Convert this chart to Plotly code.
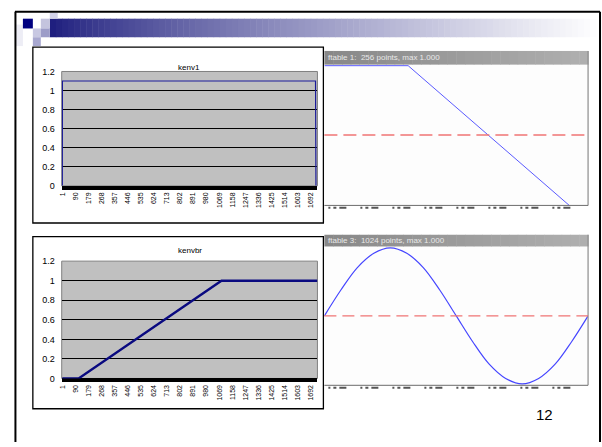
import plotly.graph_objects as go

W, H = 602, 447

# ---------------- data ----------------
x_labels = [1, 90, 179, 268, 357, 446, 535, 624, 713, 802, 891, 980,
            1069, 1158, 1247, 1336, 1425, 1514, 1603, 1692]
y_ticks = [0, 0.2, 0.4, 0.6, 0.8, 1.0, 1.2]

kenv1_x = [1, 2, 1724, 1727]
kenv1_y = [0.0, 1.1, 1.1, 0.0]

kenvbr_x = [1, 112, 1084, 1737]
kenvbr_y = [0.0, 0.0, 1.0, 1.0]

ftable1_x = [0, 81, 255]
ftable1_y = [1.0, 1.0, -1.25]

ftable3_x = [0, 64, 128, 192, 256, 320, 384, 448, 512,
             576, 640, 704, 768, 832, 896, 960, 1024]
ftable3_y = [0.0, 0.38, 0.71, 0.92, 1.0, 0.92, 0.71, 0.38, 0.0,
             -0.38, -0.71, -0.92, -1.0, -0.92, -0.71, -0.38, 0.0]

chart_titles = ["kenv1", "kenvbr"]
ftable_titles = ["ftable 1:  256 points, max 1.000",
                 "ftable 3:  1024 points, max 1.000"]
page_number = "12"

FONT = "Liberation Sans, Arial, sans-serif"


def px(x):
    return x / W


def py(y):
    return 1 - y / H


fig = go.Figure()

fig.add_trace(go.Scatter(x=kenv1_x, y=kenv1_y, mode="lines",
                         line=dict(color="#1a1a9a", width=1.2),
                         xaxis="x", yaxis="y", showlegend=False, hoverinfo="skip"))
fig.add_trace(go.Scatter(x=kenvbr_x, y=kenvbr_y, mode="lines",
                         line=dict(color="#0a0a80", width=2.4),
                         xaxis="x2", yaxis="y2", showlegend=False, hoverinfo="skip"))
fig.add_trace(go.Scatter(x=ftable1_x, y=ftable1_y, mode="lines",
                         line=dict(color="#5a5aff", width=1),
                         xaxis="x3", yaxis="y3", showlegend=False, hoverinfo="skip"))
fig.add_trace(go.Scatter(x=ftable3_x, y=ftable3_y, mode="lines", line_shape="spline",
                         line=dict(color="#4646ff", width=1.2),
                         xaxis="x4", yaxis="y4", showlegend=False, hoverinfo="skip"))

shapes = []
annotations = []

# ---------- slide decorations ----------
N = 90
x0, x1 = 47, 596
navy = (28, 28, 125)
for i in range(N):
    a = x0 + (x1 - x0) * i / N
    b = x0 + (x1 - x0) * (i + 1) / N + 0.5
    f = ((i + 0.5) / N) ** 0.8
    c = tuple(int(navy[k] + (255 - navy[k]) * f) for k in range(3))
    shapes.append(dict(type="rect", xref="paper", yref="paper",
                       x0=px(a), x1=px(b), y0=py(33), y1=py(14),
                       fillcolor="rgb(%d,%d,%d)" % c, line=dict(width=0), layer="below"))

squares = [
    (13, 20, 20, 42, "#ededf5"),
    (20, 14, 30, 24, "#000080"),
    (38, 14, 47, 24, "#c4c4de"),
    (47, 8, 55, 14, "#d2d2e8"),
    (30, 24, 38, 33, "#c8c8e2"),
    (38, 24, 47, 33, "#9c9cc8"),
    (30, 33, 38, 42, "#a8a8d0"),
]
for (a, b, c, d, col) in squares:
    shapes.append(dict(type="rect", xref="paper", yref="paper",
                       x0=px(a), x1=px(c), y0=py(d), y1=py(b),
                       fillcolor=col, line=dict(width=0), layer="below"))

for (a, b, c, d) in [(12, 7, 600, 7), (12.5, 7, 12.5, 447), (600, 7, 600, 447)]:
    shapes.append(dict(type="line", xref="paper", yref="paper",
                       x0=px(a), x1=px(c), y0=py(b), y1=py(d),
                       line=dict(color="black", width=2)))

# ---------- left charts (Excel style) ----------
boxes = [(30, 43, 322, 223), (30, 237, 322, 413)]
plots = [(59, 68, 316, 185), (59, 262, 316, 382)]
for (bx0, by0, bx1, by1), (qx0, qy0, qx1, qy1), t in zip(boxes, plots, chart_titles):
    shapes.append(dict(type="rect", xref="paper", yref="paper",
                       x0=px(bx0), x1=px(bx1), y0=py(by1), y1=py(by0),
                       fillcolor="white", line=dict(color="black", width=1.3), layer="below"))
    shapes.append(dict(type="rect", xref="paper", yref="paper",
                       x0=px(qx0), x1=px(qx1), y0=py(qy1), y1=py(qy0),
                       fillcolor="#c0c0c0", line=dict(color="#808080", width=1), layer="below"))
    annotations.append(dict(text=t, xref="paper", yref="paper",
                            x=px(174), y=py(by0 + 14), showarrow=False,
                            font=dict(family=FONT, size=8, color="black")))

# ---------- right windows (ftable) ----------
wins = [(323, 47, 61, 588, 205), (323, 235, 247, 588, 389)]
for (wx0, ty0, ty1, wx1, wy1), t in zip(wins, ftable_titles):
    shapes.append(dict(type="rect", xref="paper", yref="paper",
                       x0=px(wx0), x1=px(wx1), y0=py(wy1), y1=py(ty1),
                       fillcolor="#fdfdfd", line=dict(width=0), layer="below"))
    M = 30
    for i in range(M):
        a = wx0 + (wx1 - wx0) * i / M
        b = wx0 + (wx1 - wx0) * (i + 1) / M + 0.5
        v = int(136 + 40 * (i + 0.5) / M)
        shapes.append(dict(type="rect", xref="paper", yref="paper",
                           x0=px(a), x1=px(b), y0=py(ty1), y1=py(ty0),
                           fillcolor="rgb(%d,%d,%d)" % (v, v, v), line=dict(width=0), layer="below"))
    annotations.append(dict(text=t, xref="paper", yref="paper",
                            x=px(wx0 + 2), y=py((ty0 + ty1) / 2), xanchor="left", yanchor="middle",
                            showarrow=False,
                            font=dict(family=FONT, size=8, color="#e8e8e8")))
    shapes.append(dict(type="line", xref="paper", yref="paper",
                       x0=px(wx1), x1=px(wx1), y0=py(wy1), y1=py(ty0),
                       line=dict(color="#8c8c8c", width=1.2)))
    shapes.append(dict(type="line", xref="paper", yref="paper",
                       x0=px(wx0), x1=px(wx1), y0=py(wy1), y1=py(wy1),
                       line=dict(color="#6c6c6c", width=1)))
    shapes.append(dict(type="line", xref="paper", yref="paper",
                       x0=px(wx0 + 4), x1=px(wx1 - 10), y0=py(wy1 + 2.5), y1=py(wy1 + 2.5),
                       line=dict(color="#555555", width=2,
                                 dash="2px,3px,3px,3px,7px,14px")))

for xr, yr, dash in [("x3", "y3", "13px,6px"), ("x4", "y4", "12px,6px")]:
    shapes.append(dict(type="line", xref=xr + " domain", yref=yr,
                       x0=0, x1=1, y0=0, y1=0,
                       line=dict(color="#f07474", width=1.4, dash=dash)))

annotations.append(dict(text=page_number, xref="paper", yref="paper",
                        x=px(555), y=py(430), showarrow=False,
                        font=dict(family=FONT, size=15, color="black")))

common_x = dict(range=[-3, 1737], tickvals=x_labels, ticktext=[str(v) for v in x_labels],
                tickangle=-90, tickfont=dict(family=FONT, size=7, color="black"),
                showgrid=False, zeroline=False, showline=True, linecolor="black",
                linewidth=3.5, layer="below traces", ticks="", fixedrange=True)
common_y = dict(range=[0, 1.2], tickvals=y_ticks, ticktext=["0", "0.2", "0.4", "0.6", "0.8", "1", "1.2"],
                tickfont=dict(family=FONT, size=9, color="black"), ticklabelstandoff=6,
                showgrid=True, gridcolor="black", gridwidth=1, zeroline=False,
                showline=False, ticks="", fixedrange=True)

fig.update_layout(
    width=W, height=H,
    margin=dict(l=0, r=0, t=0, b=0),
    paper_bgcolor="white", plot_bgcolor="rgba(0,0,0,0)",
    showlegend=False,
    xaxis=dict(domain=[px(59), px(316)], anchor="y", **common_x),
    yaxis=dict(domain=[py(185), py(68)], anchor="x", **common_y),
    xaxis2=dict(domain=[px(59), px(316)], anchor="y2", **common_x),
    yaxis2=dict(domain=[py(382), py(262)], anchor="x2", **common_y),
    xaxis3=dict(domain=[px(323), px(588)], anchor="y3", range=[0, 255], visible=False),
    yaxis3=dict(domain=[py(205), py(61)], anchor="x3", range=[-1.015, 1.015], visible=False),
    xaxis4=dict(domain=[px(323), px(588)], anchor="y4", range=[0, 1024], visible=False),
    yaxis4=dict(domain=[py(389), py(247)], anchor="x4", range=[-1.02, 1.02], visible=False),
    shapes=shapes,
    annotations=annotations,
)

fig.write_html("out.html", config={"displayModeBar": False},
               post_script="document.body.style.margin='0px';document.body.style.padding='0px';")
